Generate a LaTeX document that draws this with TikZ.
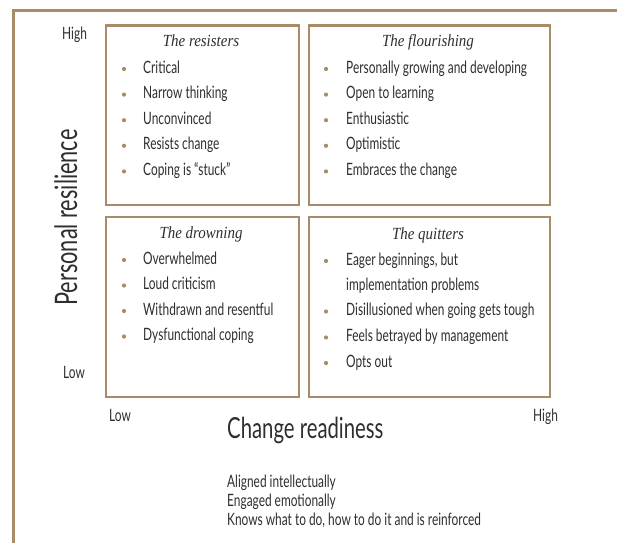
\documentclass[tikz,border=0pt]{standalone}
\usepackage{fontspec}
\setmainfont{Lato}[FakeStretch=0.70]
\newfontfamily\titlefont{Liberation Serif}[FakeStretch=0.88]
\definecolor{tanc}{HTML}{A88B68}
\definecolor{ink}{HTML}{2E2E2E}
\begin{document}
\begin{tikzpicture}[x=1pt,y=-1pt,
  box/.style={draw=tanc, line width=2.5pt, inner sep=0pt, anchor=north west},
  item/.style={anchor=base west, inner sep=0pt, font=\fontsize{17}{20}\selectfont, text=ink},
  small/.style={anchor=base west, inner sep=0pt, font=\fontsize{17}{20}\selectfont, text=ink},
  big/.style={inner sep=0pt, font=\fontsize{29}{34}\selectfont, text=ink},
  ttl/.style={anchor=base, inner sep=0pt, font=\titlefont\itshape\fontsize{17}{20}\selectfont, text=ink},
  dot/.style={circle, fill=tanc, inner sep=0pt, minimum size=4.2pt}]
\useasboundingbox (0,0) rectangle (617,543);
% frame
\coordinate (ftr) at (617,11);
\coordinate (fbl) at (13,543);
\draw[tanc, line width=3pt] (ftr) -| (fbl);
% boxes
\node[box, minimum width=193pt, minimum height=179pt] (res) at (104.5,24.5) {};
\node[box, minimum width=241pt, minimum height=179pt] (flo) at (307.5,24.5) {};
\node[box, minimum width=193pt, minimum height=180pt] (dro) at (104.5,215.5) {};
\node[box, minimum width=241pt, minimum height=180pt] (qui) at (307.5,215.5) {};
% titles
\node[ttl] (rest) at (201,47) {The resisters};
\node[ttl] (flot) at (428,47) {The flourishing};
\node[ttl] (drot) at (201,238) {The drowning};
\node[ttl] (quit) at (428,239) {The quitters};
% resisters
\foreach \t [count=\i] in {Critical, Narrow thinking, Unconvinced, Resists change, Coping is “stuck”}{
  \node[item] (resi\i) at (143,{73+25.6*(\i-1)}) {\t};
  \node[dot] (resd\i) at (124,{69+25.6*(\i-1)}) {};
}
% flourishing
\foreach \t [count=\i] in {Personally growing and developing, Open to learning, Enthusiastic, Optimistic, Embraces the change}{
  \node[item] (floi\i) at (346,{73+25.6*(\i-1)}) {\t};
  \node[dot] (flod\i) at (326,{69+25.6*(\i-1)}) {};
}
% drowning
\foreach \t [count=\i] in {Overwhelmed, Loud criticism, Withdrawn and resentful, Dysfunctional coping}{
  \node[item] (droi\i) at (143,{264+25.5*(\i-1)}) {\t};
  \node[dot] (drod\i) at (124,{260+25.5*(\i-1)}) {};
}
% quitters
\node[item] (quii1) at (346,265) {Eager beginnings, but};
\node[dot] (quid1) at (326,261) {};
\node[item] (quii1b) at (346,290) {implementation problems};
\node[item] (quii2) at (346,315.5) {Disillusioned when going gets tough};
\node[dot] (quid2) at (326,311.5) {};
\node[item] (quii3) at (346,341.5) {Feels betrayed by management};
\node[dot] (quid3) at (326,337.5) {};
\node[item] (quii4) at (346,367) {Opts out};
\node[dot] (quid4) at (326,363) {};
% axes labels
\node[small] (yhigh) at (62,40) {High};
\node[small] (ylow) at (63,378) {Low};
\node[small] (xlow) at (109,421) {Low};
\node[small] (xhigh) at (533,421) {High};
\node[big, rotate=90, anchor=base, font=\fontsize{31}{36}\selectfont] (ylab) at (77,217.5) {Personal resilience};
\node[big, anchor=base west] (xlab) at (227,438) {Change readiness};
\node[small] (n1) at (227,487) {Aligned intellectually};
\node[small] (n2) at (227,506) {Engaged emotionally};
\node[small] (n3) at (227,525) {Knows what to do, how to do it and is reinforced};
\end{tikzpicture}
\end{document}
